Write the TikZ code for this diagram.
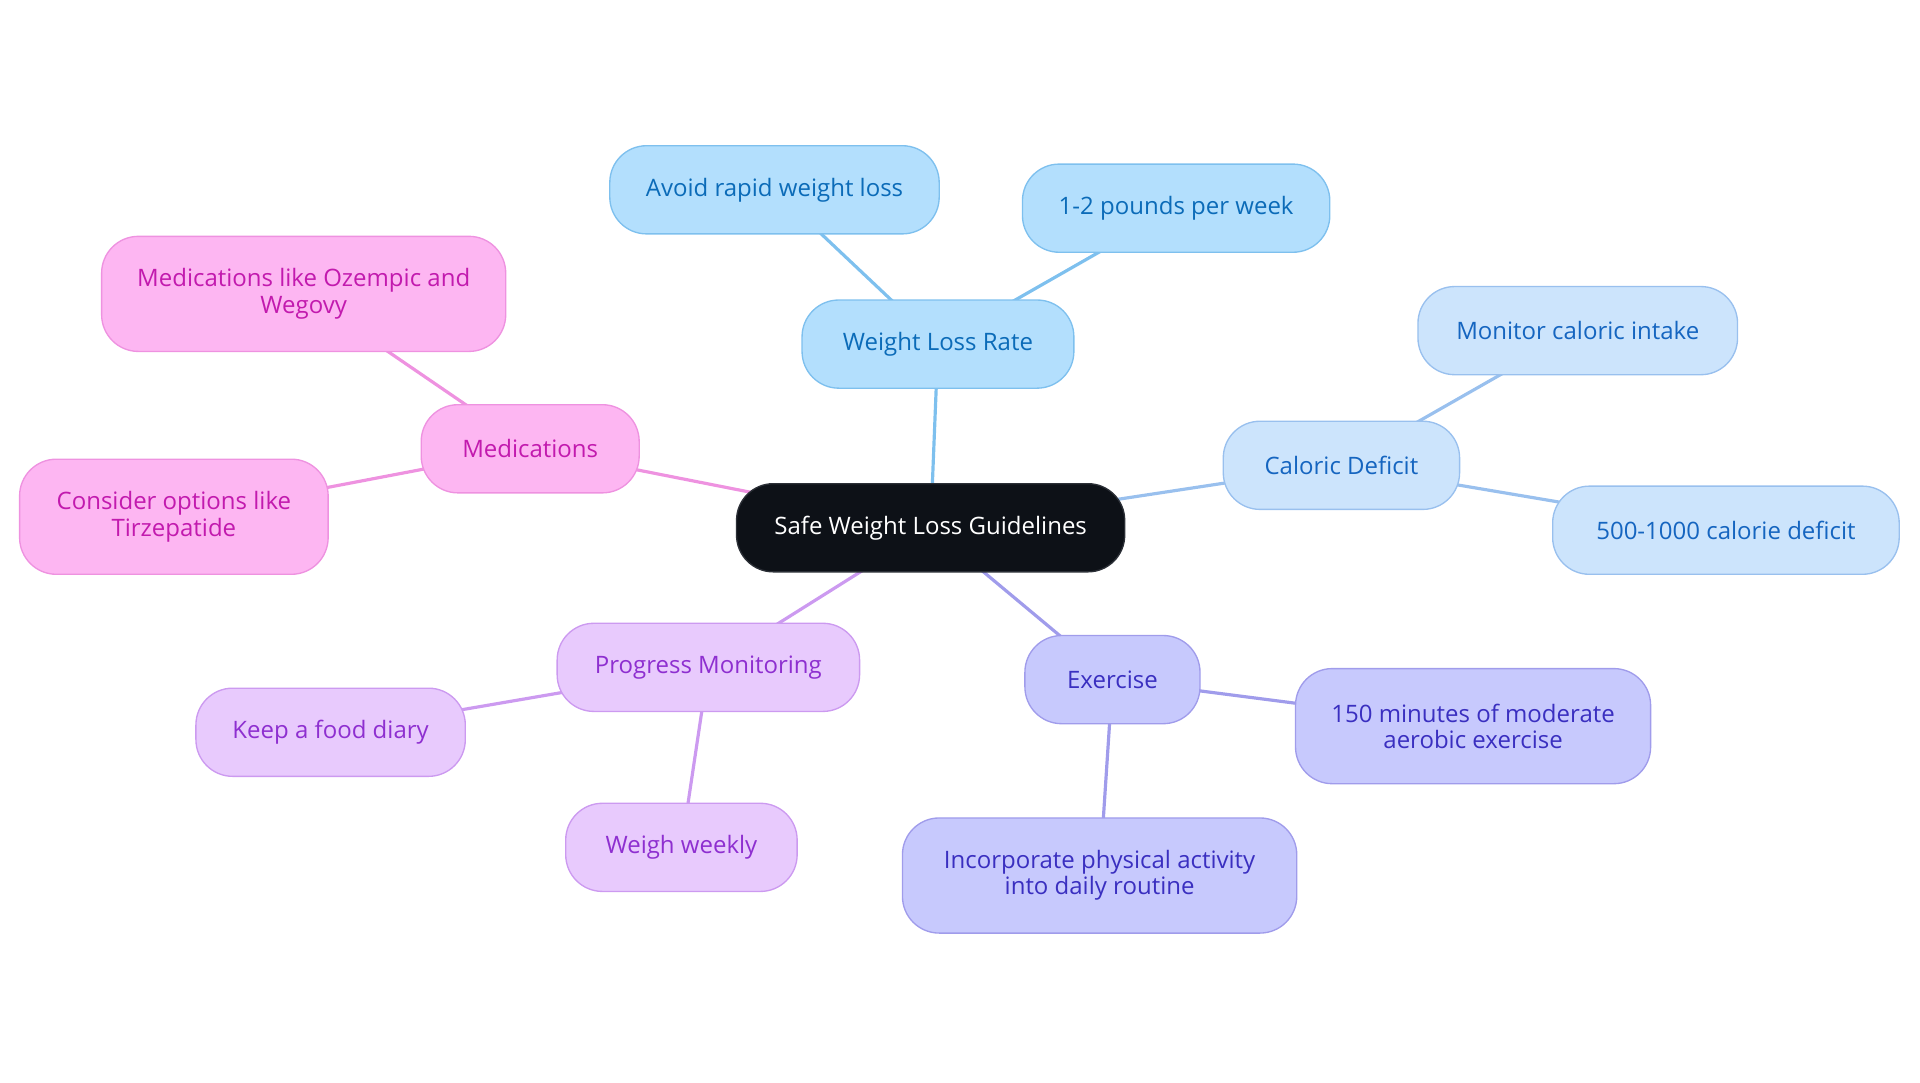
\documentclass[tikz,border=0pt]{standalone}
\usepackage{fontspec}
\setmainfont{Open Sans}
\usetikzlibrary{backgrounds}
\definecolor{cF}{HTML}{0D1117}
\definecolor{cD}{HTML}{2B2F36}
\definecolor{bF}{HTML}{B3DFFD}
\definecolor{bD}{HTML}{7EC0EE}
\definecolor{bT}{HTML}{0B6BB8}
\definecolor{lF}{HTML}{CCE4FC}
\definecolor{lD}{HTML}{99C0EE}
\definecolor{lT}{HTML}{1565C0}
\definecolor{eF}{HTML}{C7C9FD}
\definecolor{eD}{HTML}{A09CEB}
\definecolor{eT}{HTML}{3A2FC0}
\definecolor{pF}{HTML}{E8CAFD}
\definecolor{pD}{HTML}{CC9AF0}
\definecolor{pT}{HTML}{8E2FD0}
\definecolor{mF}{HTML}{FDB6F2}
\definecolor{mD}{HTML}{EE92E0}
\definecolor{mT}{HTML}{C21AAE}
\tikzset{
  box/.style={rectangle, rounded corners=30pt, draw, line width=1.1pt, minimum height=72pt,
    align=center, inner sep=0pt, font=\fontsize{19.6}{21.5}\selectfont},
  tall/.style={minimum height=94pt},
  rootbox/.style={box, fill=cF, draw=cD, text=white},
  bluebox/.style={box, fill=bF, draw=bD, text=bT},
  lightbox/.style={box, fill=lF, draw=lD, text=lT},
  exbox/.style={box, fill=eF, draw=eD, text=eT},
  progbox/.style={box, fill=pF, draw=pD, text=pT},
  medbox/.style={box, fill=mF, draw=mD, text=mT},
  link/.style={line width=2.6pt}
}
\begin{document}
\begin{tikzpicture}[x=1pt,y=-1pt]
\useasboundingbox (0,0) rectangle (1568,884.4);
\node[rootbox, minimum width=317pt] (c) at (760,431) {Safe Weight Loss Guidelines};
\node[bluebox, minimum width=222pt] (wlr) at (766,281) {Weight Loss Rate};
\node[bluebox, minimum width=269pt] (avoid) at (632.5,155) {Avoid rapid weight loss};
\node[bluebox, minimum width=251pt] (pounds) at (960.5,170) {1-2 pounds per week};
\node[lightbox, minimum width=193pt] (cal) at (1095.5,380) {Caloric Deficit};
\node[lightbox, minimum width=261pt] (mon) at (1288.5,270) {Monitor caloric intake};
\node[lightbox, minimum width=283pt] (def) at (1409.5,433) {500-1000 calorie deficit};
\node[exbox, minimum width=143pt] (ex) at (908.5,555) {Exercise};
\node[exbox, tall, minimum width=290pt] (mins) at (1203,593) {150 minutes of moderate\\aerobic exercise};
\node[exbox, tall, minimum width=322pt] (inc) at (898,715) {Incorporate physical activity\\into daily routine};
\node[progbox, minimum width=247pt] (prog) at (578.5,545) {Progress Monitoring};
\node[progbox, minimum width=220pt] (diary) at (270,598) {Keep a food diary};
\node[progbox, minimum width=189pt] (weigh) at (556.5,692) {Weigh weekly};
\node[medbox, minimum width=178pt] (med) at (433,366.5) {Medications};
\node[medbox, tall, minimum width=330pt] (oz) at (248,240) {Medications like Ozempic and\\Wegovy};
\node[medbox, tall, minimum width=252pt] (tir) at (142,422) {Consider options like\\Tirzepatide};
\begin{pgfonlayer}{background}
\draw[link, draw=bD] (c.center) -- (wlr.center);
\draw[link, draw=bD] (wlr.center) -- (avoid.center);
\draw[link, draw=bD] (wlr.center) -- (pounds.center);
\draw[link, draw=lD] (c.center) -- (cal.center);
\draw[link, draw=lD] (cal.center) -- (mon.center);
\draw[link, draw=lD] (cal.center) -- (def.center);
\draw[link, draw=eD] (c.center) -- (ex.center);
\draw[link, draw=eD] (ex.center) -- (mins.center);
\draw[link, draw=eD] (ex.center) -- (inc.center);
\draw[link, draw=pD] (c.center) -- (prog.center);
\draw[link, draw=pD] (prog.center) -- (diary.center);
\draw[link, draw=pD] (prog.center) -- (weigh.center);
\draw[link, draw=mD] (c.center) -- (med.center);
\draw[link, draw=mD] (med.center) -- (oz.center);
\draw[link, draw=mD] (med.center) -- (tir.center);
\end{pgfonlayer}
\end{tikzpicture}
\end{document}
